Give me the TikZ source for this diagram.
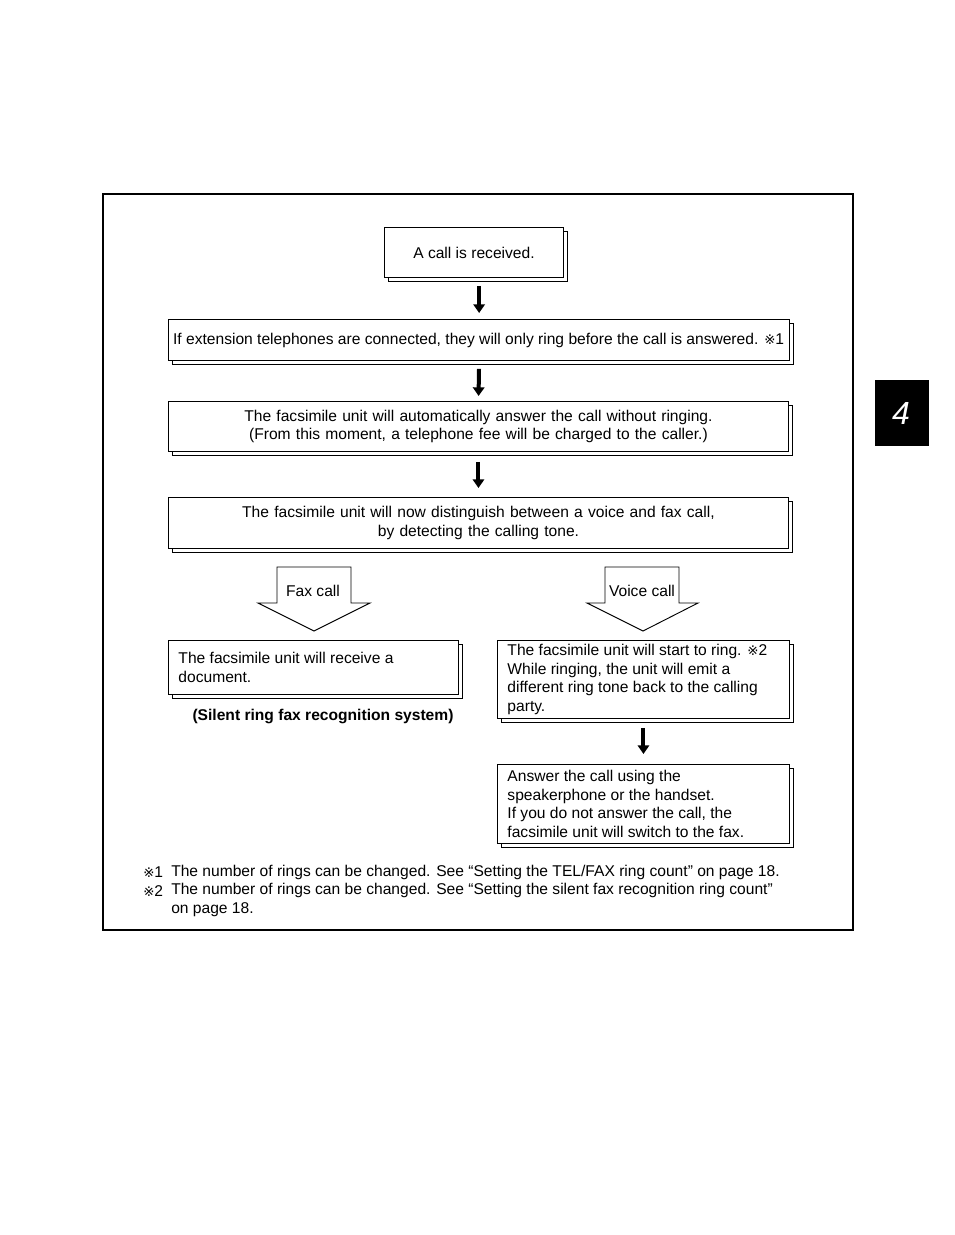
\documentclass[tikz,border=0pt]{standalone}
\usepackage{fontspec}
\setmainfont{Liberation Sans}
\newfontfamily\refmarkfont{DejaVu Sans}
\usetikzlibrary{arrows.meta,shadows}
\newcommand{\kome}{{\refmarkfont\fontsize{10}{11}\selectfont ※}}
\begin{document}
\begin{tikzpicture}[x=0.75pt,y=-0.75pt,
  txt/.style={font=\fontsize{11.7}{13.9}\selectfont},
  box/.style={txt, draw, line width=0.7pt, fill=white, anchor=north west,
    inner xsep=7.5pt, inner ysep=0pt,
    copy shadow={shadow xshift=3pt, shadow yshift=-3pt, draw, fill=white, line width=0.6pt}},
  flow/.style={line width=3pt, -{Triangle[length=6.5pt,width=8.5pt]}},
  blockarrow/.style={draw, line width=0.7pt, fill=white},
]
\useasboundingbox (0,0) rectangle (954,1235);
% outer frame
\draw[line width=0.8pt] (103,194) rectangle (853,930);
% chapter tab
\fill[black] (875,380) rectangle (929,446);
\node[text=white, font=\fontsize{24}{26}\selectfont\itshape] (tab) at (901,413) {4};

% boxes
\node[box, minimum width=179*0.75pt, minimum height=50*0.75pt, align=center] (b1) at (384,227) {A call is received.};
\node[box, minimum width=619*0.75pt, minimum height=41*0.75pt, inner xsep=3.5pt, text width=612*0.75pt, align=flush left] (b2) at (168,319) {If extension telephones are connected, they will only ring before the call is answered. \kome1};
\node[box, minimum width=619*0.75pt, minimum height=50*0.75pt, text width=600*0.75pt, align=center] (b3) at (168,401) {The facsimile unit will automatically answer the call without ringing.\\(From this moment, a telephone fee will be charged to the caller.)};
\node[box, minimum width=619*0.75pt, minimum height=51*0.75pt, text width=600*0.75pt, align=center] (b4) at (168,497) {The facsimile unit will now distinguish between a voice and fax call,\\by detecting the calling tone.};

\node[box, minimum width=287*0.75pt, minimum height=54*0.75pt, text width=270*0.75pt, align=flush left] (fax) at (168,640) {The facsimile unit will receive a\\document.};
\node[txt, font=\fontsize{11.7}{13.9}\selectfont\bfseries] (silent) at (323,716) {(Silent ring fax recognition system)};

\node[box, minimum width=290*0.75pt, minimum height=78*0.75pt, text width=272*0.75pt, align=flush left] (voice) at (497,640) {The facsimile unit will start to ring. \kome2\\While ringing, the unit will emit a\\different ring tone back to the calling\\party.};
\node[box, minimum width=290*0.75pt, minimum height=79*0.75pt, text width=272*0.75pt, align=flush left] (answer) at (497,764) {Answer the call using the\\speakerphone or the handset.\\If you do not answer the call, the\\facsimile unit will switch to the fax.};

% flow arrows
\draw[flow, shorten <=8*0.75pt, shorten >=6*0.75pt] (b2.north |- b1.south) -- (b2.north);
\draw[flow, shorten <=8*0.75pt, shorten >=5*0.75pt] (b2.south) -- (b3.north);
\draw[flow, shorten <=10*0.75pt, shorten >=9*0.75pt] (b3.south) -- (b4.north);
\draw[flow, shorten <=9*0.75pt, shorten >=10*0.75pt] (voice.south) -- (answer.north);

% block arrows
\draw[blockarrow] (277,567) -- (351,567) -- (351,603) -- (370,603) -- (314,631) -- (258,603) -- (277,603) -- cycle;
\node[txt] (faxlbl) at (313,591) {Fax call};
\draw[blockarrow] (605,567) -- (679,567) -- (679,603) -- (698,603) -- (643,631) -- (587,603) -- (605,603) -- cycle;
\node[txt] (voicelbl) at (642,591) {Voice call};

% footnotes
\node[txt, anchor=west, inner sep=0pt] (m1) at (143,872) {\kome1};
\node[txt, anchor=west, inner sep=0pt] (f1) at (171,872) {The number of rings can be changed. See “Setting the TEL/FAX ring count” on page 18.};
\node[txt, anchor=west, inner sep=0pt] (m2) at (143,891) {\kome2};
\node[txt, anchor=north west, inner sep=0pt, align=left] (f2) at (171,883) {The number of rings can be changed. See “Setting the silent fax recognition ring count”\\on page 18.};
\end{tikzpicture}
\end{document}
